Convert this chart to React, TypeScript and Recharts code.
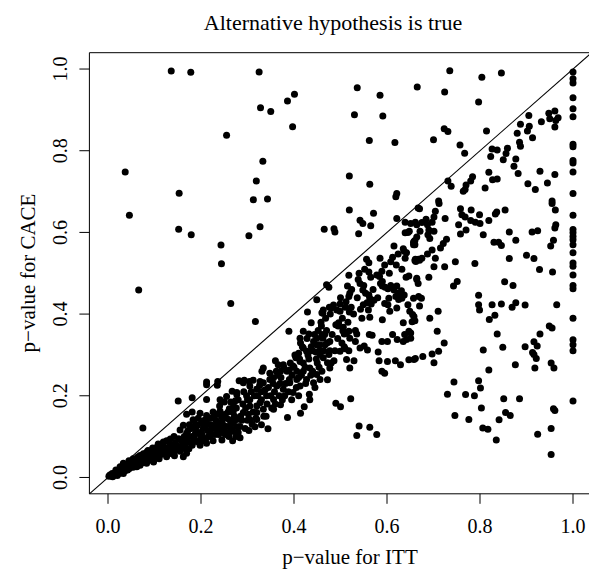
import { ScatterChart, Scatter, XAxis, YAxis, ReferenceLine, ReferenceArea } from "recharts"

// p-value pairs [ITT, CACE]
const aboveDiagonal: [number, number][] = [
  [0.136, 0.995], [0.178, 0.992], [0.325, 0.993], [0.255, 0.838], [0.037, 0.748], [0.153, 0.696],
  [0.319, 0.726], [0.3125, 0.68], [0.343, 0.682], [0.328, 0.905], [0.35, 0.896], [0.386, 0.922],
  [0.401, 0.938], [0.397, 0.859], [0.333, 0.774], [0.536, 0.954], [0.585, 0.936], [0.665, 0.956],
  [0.53, 0.888], [0.591, 0.885], [0.562, 0.825], [0.617, 0.82], [0.519, 0.738], [0.563, 0.718],
  [0.621, 0.695], [0.619, 0.687], [0.735, 0.996], [0.804, 0.98], [0.846, 0.99], [0.724, 0.944],
  [0.797, 0.919], [0.723, 0.854], [0.731, 0.847], [0.7, 0.827], [0.757, 0.814], [0.767, 0.794],
  [0.814, 0.848], [0.046, 0.642], [0.152, 0.608], [0.179, 0.594], [0.243, 0.569], [0.303, 0.592],
  [0.327, 0.614], [0.244, 0.523], [0.066, 0.459], [0.264, 0.426], [0.317, 0.382], [0.519, 0.655],
  [0.571, 0.647], [0.542, 0.63], [0.548, 0.622], [0.565, 0.616], [0.465, 0.608], [0.486, 0.609],
  [0.488, 0.601], [0.539, 0.597], [0.621, 0.634], [0.075, 0.121], [0.151, 0.187], [0.181, 0.195],
  [0.212, 0.227],
]

const upperBand: [number, number][] = [
  [0.905, 0.886], [0.887, 0.865], [0.932, 0.871], [0.948, 0.892], [0.961, 0.897], [0.95, 0.878],
  [0.968, 0.881], [0.963, 0.874], [0.961, 0.858], [0.906, 0.86], [0.902, 0.848], [0.88, 0.843],
  [0.913, 0.832], [0.885, 0.821], [0.887, 0.811], [0.826, 0.804], [0.837, 0.802], [0.823, 0.786],
  [0.859, 0.806], [0.856, 0.793], [0.85, 0.778], [0.877, 0.78], [0.873, 0.762], [0.882, 0.744],
  [0.929, 0.75], [0.961, 0.742], [0.945, 0.721], [0.903, 0.719], [0.919, 0.705], [0.819, 0.747],
  [0.827, 0.729], [0.837, 0.731], [0.811, 0.709], [0.784, 0.736], [0.78, 0.726], [0.77, 0.716],
  [0.768, 0.705], [0.764, 0.701], [0.731, 0.726], [0.738, 0.713], [0.711, 0.677], [0.955, 0.677],
  [0.67, 0.658], [0.712, 0.671], [0.704, 0.652], [0.701, 0.638], [0.697, 0.625], [0.725, 0.634],
  [0.661, 0.625], [0.675, 0.624], [0.684, 0.632], [0.687, 0.619], [0.69, 0.606], [0.688, 0.594],
  [0.692, 0.585], [0.701, 0.603], [0.671, 0.603], [0.658, 0.578], [0.66, 0.57], [0.728, 0.583],
  [0.721, 0.573], [0.715, 0.562], [0.697, 0.557], [0.687, 0.547], [0.704, 0.537], [0.675, 0.537],
  [0.668, 0.534], [0.66, 0.531], [0.701, 0.516], [0.724, 0.516], [0.747, 0.528], [0.789, 0.524],
  [0.69, 0.49], [0.664, 0.488], [0.667, 0.475], [0.751, 0.48], [0.743, 0.469], [0.758, 0.658],
  [0.761, 0.643], [0.768, 0.638], [0.781, 0.655], [0.799, 0.643], [0.78, 0.629], [0.79, 0.625],
  [0.8, 0.622], [0.754, 0.619], [0.77, 0.606], [0.758, 0.596], [0.807, 0.594], [0.819, 0.629],
  [0.833, 0.645], [0.836, 0.65], [0.854, 0.655], [0.863, 0.601], [0.877, 0.581], [0.83, 0.576],
  [0.84, 0.576], [0.846, 0.568], [0.863, 0.536], [0.9, 0.544], [0.916, 0.536], [0.928, 0.509],
  [0.956, 0.503], [0.912, 0.601], [0.924, 0.604], [0.955, 0.671], [0.962, 0.655], [0.963, 0.619],
  [0.961, 0.611], [0.958, 0.581], [0.952, 0.567], [0.664, 0.589], [0.657, 0.575], [0.67, 0.532],
  [0.662, 0.529], [0.664, 0.485], [0.853, 0.479], [0.871, 0.47], [0.667, 0.66], [0.639, 0.625],
  [0.651, 0.622], [0.664, 0.619], [0.639, 0.599], [0.648, 0.603], [0.66, 0.58], [0.657, 0.57],
  [0.615, 0.567], [0.637, 0.554], [0.642, 0.55], [0.624, 0.547], [0.612, 0.539], [0.608, 0.528],
  [0.661, 0.534], [0.639, 0.537], [0.585, 0.537], [0.556, 0.534], [0.561, 0.526], [0.552, 0.51],
  [0.561, 0.503], [0.589, 0.505], [0.584, 0.492], [0.578, 0.496], [0.586, 0.475], [0.59, 0.469],
  [0.596, 0.466], [0.632, 0.51], [0.641, 0.49], [0.647, 0.493], [0.62, 0.52], [0.605, 0.5],
  [0.595, 0.52], [0.635, 0.56], [0.645, 0.6],
]

const midBand: [number, number][] = [
  [0.621, 0.469], [0.615, 0.459], [0.624, 0.451], [0.619, 0.443], [0.631, 0.457], [0.632, 0.439],
  [0.625, 0.436], [0.637, 0.447], [0.604, 0.439], [0.595, 0.426], [0.602, 0.423], [0.608, 0.47],
  [0.602, 0.462], [0.518, 0.495], [0.515, 0.469], [0.52, 0.451], [0.518, 0.443], [0.538, 0.485],
  [0.542, 0.475], [0.548, 0.459], [0.554, 0.451], [0.561, 0.447], [0.563, 0.439], [0.572, 0.434],
  [0.557, 0.428], [0.566, 0.425], [0.549, 0.423], [0.543, 0.412], [0.523, 0.417], [0.519, 0.405],
  [0.51, 0.417], [0.499, 0.425], [0.499, 0.407], [0.485, 0.422], [0.476, 0.417], [0.463, 0.41],
  [0.46, 0.403], [0.47, 0.472], [0.475, 0.466], [0.449, 0.435], [0.429, 0.405], [0.59, 0.386],
  [0.563, 0.392], [0.606, 0.407], [0.621, 0.415], [0.645, 0.423], [0.649, 0.407], [0.655, 0.399],
  [0.66, 0.384], [0.635, 0.379], [0.654, 0.381], [0.647, 0.358], [0.651, 0.341], [0.635, 0.333],
  [0.622, 0.338], [0.612, 0.35], [0.642, 0.338], [0.562, 0.35], [0.568, 0.348], [0.551, 0.322],
  [0.558, 0.312], [0.581, 0.307], [0.583, 0.286], [0.601, 0.284], [0.618, 0.286], [0.629, 0.276],
  [0.647, 0.288], [0.658, 0.289], [0.589, 0.26], [0.595, 0.255], [0.52, 0.268], [0.513, 0.289],
  [0.529, 0.286], [0.542, 0.317], [0.532, 0.333], [0.52, 0.341], [0.513, 0.354], [0.505, 0.359],
  [0.495, 0.371], [0.49, 0.374], [0.535, 0.351], [0.518, 0.358], [0.508, 0.351], [0.503, 0.329],
  [0.499, 0.309], [0.51, 0.315], [0.518, 0.31], [0.477, 0.333], [0.477, 0.31], [0.475, 0.301],
  [0.467, 0.325], [0.462, 0.341], [0.456, 0.325], [0.449, 0.341], [0.449, 0.325], [0.437, 0.32],
  [0.442, 0.333], [0.432, 0.351], [0.42, 0.358], [0.413, 0.341], [0.414, 0.329], [0.42, 0.317],
  [0.41, 0.304], [0.404, 0.293], [0.413, 0.284], [0.427, 0.309], [0.447, 0.307], [0.456, 0.301],
  [0.463, 0.293], [0.472, 0.281], [0.48, 0.28], [0.486, 0.286], [0.477, 0.268], [0.46, 0.26],
  [0.449, 0.252], [0.434, 0.268], [0.42, 0.26], [0.41, 0.245], [0.398, 0.273], [0.39, 0.263],
  [0.377, 0.276], [0.371, 0.26], [0.36, 0.286], [0.366, 0.276], [0.356, 0.244], [0.334, 0.268],
  [0.331, 0.26], [0.389, 0.358], [0.437, 0.379], [0.459, 0.371], [0.466, 0.35], [0.496, 0.379],
  [0.506, 0.368], [0.462, 0.402], [0.48, 0.415], [0.638, 0.35], [0.651, 0.354], [0.601, 0.333],
  [0.589, 0.333], [0.67, 0.42], [0.657, 0.439], [0.668, 0.443], [0.674, 0.439], [0.658, 0.394],
  [0.692, 0.39], [0.71, 0.407], [0.708, 0.358], [0.723, 0.329], [0.711, 0.309], [0.697, 0.302],
  [0.677, 0.296], [0.661, 0.291], [0.701, 0.281], [0.392, 0.28], [0.396, 0.25], [0.402, 0.3],
  [0.406, 0.26], [0.412, 0.29], [0.416, 0.25], [0.418, 0.32], [0.424, 0.27], [0.428, 0.34],
  [0.432, 0.29], [0.436, 0.25], [0.44, 0.31], [0.444, 0.35], [0.448, 0.29], [0.452, 0.36],
  [0.454, 0.27], [0.458, 0.38], [0.464, 0.31], [0.468, 0.39], [0.472, 0.33], [0.478, 0.4],
  [0.482, 0.35], [0.488, 0.31], [0.492, 0.41], [0.494, 0.34], [0.5, 0.44], [0.504, 0.39],
  [0.508, 0.32], [0.512, 0.43], [0.516, 0.38], [0.524, 0.46], [0.528, 0.4], [0.532, 0.36],
  [0.536, 0.44], [0.54, 0.5], [0.546, 0.39], [0.55, 0.47], [0.56, 0.41], [0.565, 0.49],
  [0.57, 0.46], [0.58, 0.44], [0.59, 0.48],
]

const lowBand: [number, number][] = [
  [0.212, 0.234], [0.236, 0.235], [0.282, 0.237], [0.293, 0.238], [0.304, 0.235], [0.327, 0.235],
  [0.312, 0.238], [0.235, 0.226], [0.212, 0.191], [0.241, 0.19], [0.255, 0.198], [0.267, 0.211],
  [0.277, 0.203], [0.274, 0.188], [0.261, 0.168], [0.269, 0.159], [0.251, 0.154], [0.241, 0.162],
  [0.226, 0.16], [0.212, 0.152], [0.198, 0.157], [0.181, 0.16], [0.169, 0.155], [0.183, 0.141],
  [0.205, 0.138], [0.226, 0.147], [0.244, 0.149], [0.261, 0.141], [0.278, 0.124], [0.267, 0.116],
  [0.248, 0.128], [0.234, 0.133], [0.221, 0.129], [0.208, 0.124], [0.191, 0.126], [0.175, 0.129],
  [0.162, 0.128], [0.155, 0.116], [0.169, 0.108], [0.187, 0.105], [0.202, 0.106], [0.219, 0.111],
  [0.236, 0.118], [0.252, 0.105], [0.275, 0.1], [0.268, 0.09], [0.245, 0.092], [0.226, 0.09],
  [0.212, 0.084], [0.198, 0.079], [0.181, 0.079], [0.165, 0.071], [0.148, 0.077], [0.133, 0.08],
  [0.119, 0.087], [0.106, 0.075], [0.098, 0.067], [0.083, 0.062], [0.069, 0.054], [0.054, 0.046],
  [0.045, 0.041], [0.033, 0.035], [0.026, 0.026], [0.017, 0.018], [0.009, 0.01], [0.002, 0.003],
  [0.004, 0.006], [0.069, 0.04], [0.09, 0.046], [0.106, 0.054], [0.123, 0.064], [0.14, 0.067],
  [0.155, 0.064], [0.169, 0.059], [0.162, 0.051], [0.143, 0.053], [0.126, 0.051], [0.11, 0.046],
  [0.098, 0.038], [0.083, 0.035], [0.069, 0.03], [0.054, 0.025], [0.042, 0.018], [0.033, 0.01],
  [0.02, 0.005], [0.01, 0.002], [0.522, 0.193], [0.49, 0.182], [0.5, 0.173], [0.54, 0.126],
  [0.563, 0.123], [0.535, 0.103], [0.578, 0.105], [0.472, 0.239], [0.433, 0.204], [0.434, 0.19],
  [0.422, 0.173], [0.414, 0.157], [0.386, 0.147], [0.371, 0.178], [0.344, 0.119], [0.303, 0.115],
  [0.284, 0.097], [0.33, 0.129], [0.316, 0.124], [0.262, 0.126], [0.268, 0.113], [0.291, 0.232],
  [0.305, 0.224], [0.277, 0.208], [0.298, 0.2], [0.32, 0.216], [0.334, 0.232], [0.348, 0.24],
  [0.363, 0.224], [0.341, 0.2], [0.327, 0.183], [0.356, 0.191], [0.305, 0.175], [0.291, 0.159],
  [0.277, 0.142], [0.32, 0.159], [0.334, 0.167], [0.356, 0.167], [0.377, 0.216], [0.391, 0.232],
  [0.406, 0.24], [0.398, 0.208], [0.413, 0.224], [0.427, 0.24], [0.442, 0.232], [0.456, 0.24],
  [0.27, 0.167], [0.305, 0.142], [0.32, 0.142], [0.005, 0.004], [0.012, 0.008], [0.015, 0.012],
  [0.022, 0.014], [0.028, 0.02], [0.03, 0.015], [0.038, 0.024], [0.04, 0.03], [0.048, 0.028],
  [0.05, 0.036], [0.058, 0.034], [0.06, 0.045], [0.065, 0.04], [0.072, 0.046], [0.078, 0.05],
  [0.08, 0.056], [0.088, 0.052], [0.092, 0.06], [0.1, 0.058], [0.104, 0.066], [0.112, 0.07],
  [0.116, 0.062], [0.12, 0.074], [0.128, 0.072], [0.132, 0.066], [0.136, 0.078], [0.145, 0.085],
  [0.15, 0.072], [0.158, 0.09], [0.16, 0.08], [0.17, 0.092], [0.175, 0.1], [0.178, 0.085],
  [0.185, 0.095], [0.19, 0.112], [0.195, 0.09], [0.2, 0.1], [0.205, 0.12], [0.21, 0.095],
  [0.215, 0.13], [0.22, 0.1], [0.228, 0.12], [0.232, 0.14], [0.238, 0.105], [0.245, 0.135],
  [0.25, 0.115], [0.255, 0.145], [0.26, 0.1], [0.265, 0.13], [0.27, 0.175], [0.28, 0.11],
  [0.285, 0.15], [0.29, 0.18], [0.295, 0.12], [0.3, 0.14], [0.305, 0.19], [0.31, 0.13],
  [0.315, 0.2], [0.32, 0.175], [0.33, 0.21], [0.34, 0.15], [0.345, 0.22], [0.35, 0.2],
  [0.36, 0.18], [0.365, 0.25], [0.37, 0.23], [0.38, 0.2], [0.385, 0.26], [0.39, 0.24],
  [0.395, 0.19], [0.4, 0.27], [0.405, 0.22], [0.41, 0.2], [0.42, 0.28], [0.425, 0.23],
  [0.43, 0.3], [0.44, 0.26], [0.445, 0.22], [0.45, 0.28], [0.455, 0.31], [0.46, 0.35],
  [0.47, 0.36], [0.014, 0.006], [0.024, 0.01], [0.036, 0.016], [0.046, 0.022], [0.052, 0.032],
  [0.062, 0.026], [0.064, 0.05], [0.074, 0.036], [0.076, 0.058], [0.084, 0.044], [0.086, 0.066],
  [0.094, 0.042], [0.096, 0.072], [0.102, 0.05], [0.108, 0.082], [0.114, 0.056], [0.118, 0.08],
  [0.124, 0.058], [0.126, 0.09], [0.13, 0.06], [0.134, 0.094], [0.138, 0.058], [0.142, 0.1],
  [0.146, 0.068], [0.152, 0.095], [0.156, 0.07], [0.164, 0.1], [0.166, 0.082], [0.172, 0.115],
  [0.174, 0.07], [0.18, 0.12], [0.182, 0.1], [0.188, 0.13], [0.19, 0.088], [0.194, 0.145],
  [0.198, 0.11], [0.2, 0.132], [0.204, 0.09], [0.208, 0.14], [0.214, 0.115], [0.216, 0.1],
  [0.22, 0.145], [0.224, 0.125], [0.23, 0.105], [0.232, 0.155], [0.238, 0.13], [0.24, 0.175],
  [0.242, 0.115], [0.246, 0.145], [0.25, 0.185], [0.254, 0.125], [0.258, 0.16], [0.262, 0.112],
  [0.264, 0.185], [0.27, 0.135], [0.272, 0.15], [0.276, 0.17], [0.28, 0.19], [0.284, 0.125],
  [0.288, 0.14], [0.292, 0.21], [0.296, 0.17], [0.3, 0.19], [0.302, 0.155], [0.308, 0.21],
  [0.312, 0.16], [0.318, 0.145], [0.322, 0.2], [0.326, 0.225], [0.33, 0.19], [0.335, 0.15],
  [0.338, 0.215], [0.342, 0.18], [0.348, 0.255], [0.352, 0.17], [0.355, 0.23], [0.358, 0.21],
  [0.362, 0.26], [0.368, 0.2], [0.372, 0.245], [0.375, 0.19], [0.378, 0.27], [0.382, 0.23],
  [0.388, 0.21],
]

const lowerRight: [number, number][] = [
  [0.797, 0.446], [0.797, 0.423], [0.799, 0.41], [0.826, 0.423], [0.846, 0.425], [0.869, 0.417],
  [0.877, 0.428], [0.897, 0.422], [0.965, 0.423], [0.832, 0.397], [0.82, 0.387], [0.949, 0.371],
  [0.955, 0.366], [0.929, 0.351], [0.837, 0.351], [0.849, 0.319], [0.807, 0.312], [0.897, 0.32],
  [0.916, 0.332], [0.923, 0.322], [0.913, 0.306], [0.916, 0.301], [0.921, 0.291], [0.876, 0.276],
  [0.918, 0.268], [0.953, 0.28], [0.959, 0.268], [0.819, 0.263], [0.797, 0.237], [0.744, 0.234],
  [0.801, 0.219], [0.73, 0.204], [0.769, 0.203], [0.788, 0.2], [0.851, 0.193], [0.885, 0.193],
  [0.803, 0.17], [0.958, 0.168], [0.961, 0.164], [0.746, 0.152], [0.776, 0.142], [0.855, 0.159],
  [0.865, 0.152], [0.841, 0.141], [0.806, 0.121], [0.817, 0.118], [0.835, 0.092], [0.924, 0.106],
  [0.953, 0.12], [0.953, 0.056],
]

// ITT p-value of 1: CACE values in the right-hand column
const rightEdgeCace = [
  0.993, 0.976, 0.966, 0.93, 0.903, 0.883, 0.816, 0.81, 0.776, 0.77, 0.748, 0.695, 0.642, 0.607,
  0.599, 0.59, 0.582, 0.57, 0.55, 0.525, 0.517, 0.496, 0.47, 0.462, 0.39, 0.337, 0.325, 0.31, 0.187,
]

const axisTicks = [0, 0.2, 0.4, 0.6, 0.8, 1.0]
const axisTickLabels = ["0.0", "0.2", "0.4", "0.6", "0.8", "1.0"]

const points = [
  ...aboveDiagonal,
  ...upperBand,
  ...midBand,
  ...lowBand,
  ...lowerRight,
  ...rightEdgeCace.map((c) => [1, c] as [number, number]),
].map(([itt, cace]) => ({ itt, cace }))

const FONT = "'Liberation Serif', 'Times New Roman', serif"
const DOMAIN: [number, number] = [-0.04, 1.04]

function labelFor(v: number) {
  const i = axisTicks.findIndex((t) => Math.abs(t - v) < 1e-9)
  return i >= 0 ? axisTickLabels[i] : String(v)
}

function XTick({ x, payload }: any) {
  return (
    <text x={x} y={533} textAnchor="middle" fontFamily={FONT} fontSize={20} fill="#000">
      {labelFor(payload.value)}
    </text>
  )
}

function YTick({ y, payload }: any) {
  return (
    <text
      x={67}
      y={y}
      transform={`rotate(-90, 67, ${y})`}
      textAnchor="middle"
      fontFamily={FONT}
      fontSize={20}
      fill="#000"
    >
      {labelFor(payload.value)}
    </text>
  )
}

const Dot = (props: any) => <circle cx={props.cx} cy={props.cy} r={3.5} fill="#000" />

export default function App() {
  return (
    <div
      style={{
        position: "absolute",
        left: 0,
        top: 0,
        width: 589,
        height: 569,
        overflow: "hidden",
        background: "#fff",
      }}
    >
      <ScatterChart width={600} height={569} margin={{ top: 52.7, right: 8.4, bottom: 35.2, left: 49.4 }}>
        <XAxis
          type="number"
          dataKey="itt"
          domain={DOMAIN}
          allowDataOverflow
          ticks={axisTicks}
          height={40}
          axisLine={false}
          tickLine={{ stroke: "#000", strokeWidth: 1 }}
          tickSize={10}
          tick={<XTick />}
          interval={0}
        />
        <YAxis
          type="number"
          dataKey="cace"
          domain={DOMAIN}
          allowDataOverflow
          ticks={axisTicks}
          width={40}
          axisLine={false}
          tickLine={{ stroke: "#000", strokeWidth: 1 }}
          tickSize={10}
          tick={<YTick />}
          interval={0}
        />
        <ReferenceArea
          x1={-0.04}
          x2={1.04}
          y1={-0.04}
          y2={1.04}
          fill="none"
          fillOpacity={0}
          stroke="#000"
          strokeWidth={1}
          ifOverflow="visible"
        />
        <Scatter data={points} shape={Dot} isAnimationActive={false} />
        <ReferenceLine
          segment={[
            { x: -0.04, y: -0.04 },
            { x: 1.04, y: 1.04 },
          ]}
          stroke="#000"
          strokeWidth={1.1}
          ifOverflow="visible"
        />
      </ScatterChart>
      <svg
        width={589}
        height={569}
        style={{ position: "absolute", left: 0, top: 0, pointerEvents: "none" }}
      >
        <text x={333} y={30} textAnchor="middle" fontFamily={FONT} fontSize={22} fill="#000">
          Alternative hypothesis is true
        </text>
        <text x={350} y={564} textAnchor="middle" fontFamily={FONT} fontSize={21} fill="#000">
          p−value for ITT
        </text>
        <text
          x={35}
          y={273}
          transform="rotate(-90, 35, 273)"
          textAnchor="middle"
          fontFamily={FONT}
          fontSize={21}
          fill="#000"
        >
          p−value for CACE
        </text>
      </svg>
    </div>
  )
}
